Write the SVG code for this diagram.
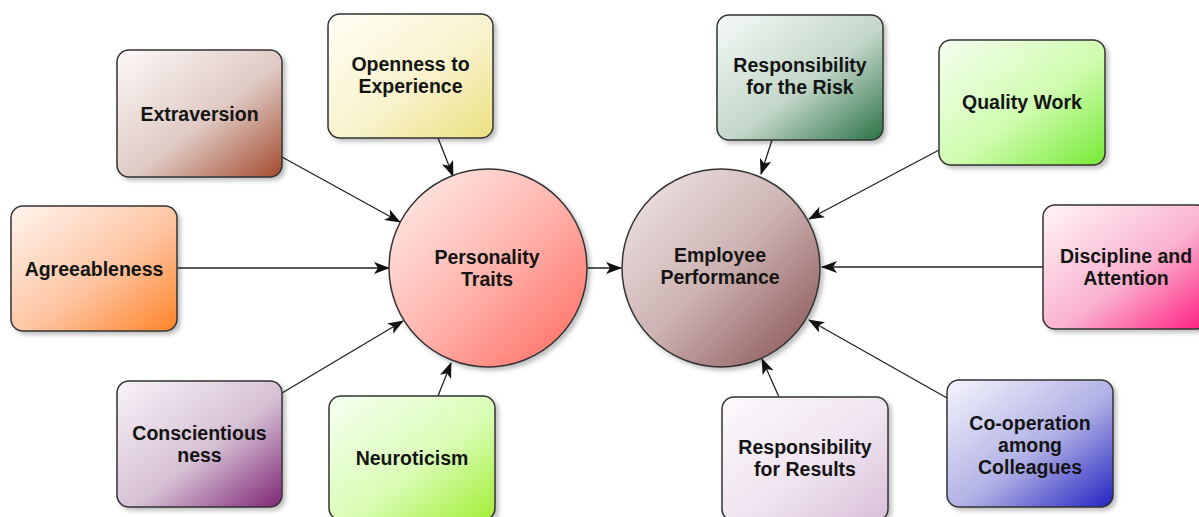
<svg xmlns="http://www.w3.org/2000/svg" width="1199" height="517" viewBox="0 0 1199 517">
<defs>
<style>
.box{stroke:#333;stroke-width:1.5;filter:url(#sh)}
.circ{stroke:#333;stroke-width:1.5;filter:url(#sh)}
.t{font-family:"Liberation Sans",Arial,sans-serif;font-weight:bold;font-size:19.5px;fill:#141414;text-anchor:middle}
.c{stroke:#222;stroke-width:1.3;fill:none;marker-end:url(#ah)}
</style>
<filter id="sh" x="-10%" y="-10%" width="125%" height="125%">
<feDropShadow dx="3" dy="3" stdDeviation="2" flood-color="#000" flood-opacity="0.25"/>
</filter>
<marker id="ah" viewBox="0 0 16 12" refX="15" refY="6" markerWidth="16" markerHeight="12" markerUnits="userSpaceOnUse" orient="auto">
<path d="M0,0 L16,6 L0,12 L4,6 z" fill="#111"/>
</marker>
<linearGradient id="gExt" x1="0" y1="0" x2="1" y2="1"><stop offset="0" stop-color="#fdf9f8"/><stop offset="0.55" stop-color="#dfc9c3"/><stop offset="1" stop-color="#a44a2e"/></linearGradient>
<linearGradient id="gOpe" x1="0" y1="0" x2="1" y2="1"><stop offset="0" stop-color="#fffff6"/><stop offset="0.55" stop-color="#f8f2cc"/><stop offset="1" stop-color="#ece07f"/></linearGradient>
<linearGradient id="gAgr" x1="0" y1="0" x2="1" y2="1"><stop offset="0" stop-color="#fff5ef"/><stop offset="0.55" stop-color="#fdc4a2"/><stop offset="1" stop-color="#ff8428"/></linearGradient>
<linearGradient id="gCon" x1="0" y1="0" x2="1" y2="1"><stop offset="0" stop-color="#f8f3f8"/><stop offset="0.55" stop-color="#d6c0d4"/><stop offset="1" stop-color="#7e2476"/></linearGradient>
<linearGradient id="gNeu" x1="0" y1="0" x2="1" y2="1"><stop offset="0" stop-color="#f6fff2"/><stop offset="0.55" stop-color="#dafdb6"/><stop offset="1" stop-color="#a2ee36"/></linearGradient>
<linearGradient id="gPT" x1="0" y1="0" x2="1" y2="1"><stop offset="0" stop-color="#fff1ef"/><stop offset="0.5" stop-color="#ffb5ae"/><stop offset="1" stop-color="#ff675d"/></linearGradient>
<linearGradient id="gEP" x1="0" y1="0" x2="1" y2="1"><stop offset="0" stop-color="#f2eaea"/><stop offset="0.5" stop-color="#cdb2b2"/><stop offset="1" stop-color="#844c4c"/></linearGradient>
<linearGradient id="gRis" x1="0" y1="0" x2="1" y2="1"><stop offset="0" stop-color="#f5faf7"/><stop offset="0.55" stop-color="#c2d6c8"/><stop offset="1" stop-color="#2a7246"/></linearGradient>
<linearGradient id="gQua" x1="0" y1="0" x2="1" y2="1"><stop offset="0" stop-color="#f5fff1"/><stop offset="0.55" stop-color="#cffcae"/><stop offset="1" stop-color="#76ea36"/></linearGradient>
<linearGradient id="gDis" x1="0" y1="0" x2="1" y2="1"><stop offset="0" stop-color="#fff5f9"/><stop offset="0.55" stop-color="#fab2cf"/><stop offset="1" stop-color="#ff1a7e"/></linearGradient>
<linearGradient id="gRes" x1="0" y1="0" x2="1" y2="1"><stop offset="0" stop-color="#fcf9fc"/><stop offset="0.55" stop-color="#efe4ef"/><stop offset="1" stop-color="#d9bfd9"/></linearGradient>
<linearGradient id="gCoo" x1="0" y1="0" x2="1" y2="1"><stop offset="0" stop-color="#f5f5fd"/><stop offset="0.55" stop-color="#afafe5"/><stop offset="1" stop-color="#2222c2"/></linearGradient>
</defs>
<rect width="1199" height="517" fill="#fff"/>

<g id="connectors">
<line class="c" x1="282" y1="157" x2="400" y2="222"/>
<line class="c" x1="438" y1="138" x2="453" y2="176"/>
<line class="c" x1="178" y1="268" x2="389" y2="268"/>
<line class="c" x1="282" y1="393" x2="403" y2="321"/>
<line class="c" x1="438" y1="396" x2="451" y2="363"/>
<line class="c" x1="588" y1="268" x2="621" y2="268"/>
<line class="c" x1="772" y1="140" x2="761" y2="174"/>
<line class="c" x1="939" y1="150" x2="809" y2="219"/>
<line class="c" x1="1043" y1="267" x2="822" y2="267"/>
<line class="c" x1="947" y1="398" x2="809" y2="320"/>
<line class="c" x1="779" y1="397" x2="762" y2="359"/>
</g>

<g id="extraversion">
<rect class="box" x="117" y="50" width="165" height="127" rx="12" fill="url(#gExt)"/>
<text class="t" x="199.5" y="120.5">Extraversion</text>
</g>
<g id="openness">
<rect class="box" x="328" y="14" width="165" height="124" rx="12" fill="url(#gOpe)"/>
<text class="t" x="410.5" y="71">Openness to</text>
<text class="t" x="410.5" y="93">Experience</text>
</g>
<g id="agreeableness">
<rect class="box" x="11" y="206" width="166" height="125" rx="12" fill="url(#gAgr)"/>
<text class="t" x="94" y="275.5">Agreeableness</text>
</g>
<g id="conscientiousness">
<rect class="box" x="117" y="381" width="165" height="126" rx="12" fill="url(#gCon)"/>
<text class="t" x="199.5" y="439.5">Conscientious</text>
<text class="t" x="199.5" y="461.5">ness</text>
</g>
<g id="neuroticism">
<rect class="box" x="329" y="396" width="166" height="124" rx="12" fill="url(#gNeu)"/>
<text class="t" x="412" y="465">Neuroticism</text>
</g>
<g id="personality-traits">
<circle class="circ" cx="488" cy="268" r="99" fill="url(#gPT)"/>
<text class="t" x="487" y="263.5">Personality</text>
<text class="t" x="487" y="285.5">Traits</text>
</g>
<g id="employee-performance">
<circle class="circ" cx="721" cy="268" r="99" fill="url(#gEP)"/>
<text class="t" x="720" y="262">Employee</text>
<text class="t" x="720" y="284">Performance</text>
</g>
<g id="risk">
<rect class="box" x="717" y="15" width="166" height="125" rx="12" fill="url(#gRis)"/>
<text class="t" x="800" y="72">Responsibility</text>
<text class="t" x="800" y="94">for the Risk</text>
</g>
<g id="quality">
<rect class="box" x="939" y="40" width="166" height="125" rx="12" fill="url(#gQua)"/>
<text class="t" x="1022" y="109">Quality Work</text>
</g>
<g id="discipline">
<rect class="box" x="1043" y="205" width="166" height="124" rx="12" fill="url(#gDis)"/>
<text class="t" x="1126" y="262.5">Discipline and</text>
<text class="t" x="1126" y="284.5">Attention</text>
</g>
<g id="results">
<rect class="box" x="722" y="397" width="166" height="124" rx="12" fill="url(#gRes)"/>
<text class="t" x="805" y="454">Responsibility</text>
<text class="t" x="805" y="476">for Results</text>
</g>
<g id="cooperation">
<rect class="box" x="947" y="380" width="166" height="127" rx="12" fill="url(#gCoo)"/>
<text class="t" x="1030" y="430">Co-operation</text>
<text class="t" x="1030" y="452">among</text>
<text class="t" x="1030" y="474">Colleagues</text>
</g>
</svg>
